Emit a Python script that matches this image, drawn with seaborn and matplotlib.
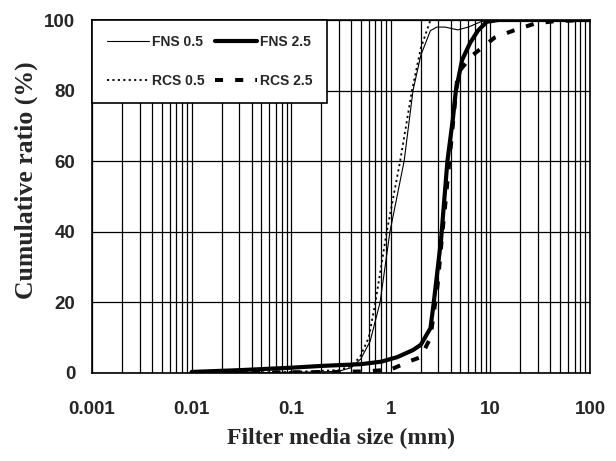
import matplotlib
matplotlib.use("Agg")
import matplotlib.pyplot as plt
from matplotlib.ticker import LogLocator, FixedLocator, NullFormatter
import numpy as np
import pandas as pd
import seaborn as sns

# Particle size distributions of filter media (size in mm, cumulative %)
fns05_size = [0.01, 0.05, 0.1, 0.2, 0.3, 0.4, 0.5, 0.62, 0.78, 0.98, 1.36, 1.67,
              2.0, 2.5, 2.9, 3.5, 4.7, 6.0, 8.0, 10.0, 100.0]
fns05_ratio = [0.0, 0.1, 0.2, 0.3, 0.5, 1.5, 4.0, 9.0, 20.0, 40.0, 60.0, 80.0,
               90.0, 97.0, 98.0, 98.0, 97.2, 98.0, 99.5, 100.0, 100.0]

fns25_size = [0.01, 0.03, 0.1, 0.2, 0.5, 0.8, 1.16, 1.67, 2.0, 2.5, 2.7, 3.2,
              3.7, 4.2, 4.5, 5.2, 6.25, 7.5, 9.2, 12.0, 100.0]
fns25_ratio = [0.3, 0.8, 1.5, 2.0, 2.5, 3.2, 4.5, 6.5, 8.0, 12.7, 20.0, 38.0,
               60.0, 72.0, 80.0, 88.7, 93.5, 97.0, 99.5, 100.0, 100.0]

rcs05_size = [0.01, 0.1, 0.3, 0.4, 0.49, 0.6, 0.7, 0.91, 1.24, 1.63, 2.0, 2.5, 100.0]
rcs05_ratio = [0.0, 0.3, 0.8, 2.0, 4.5, 10.0, 20.0, 40.0, 60.0, 80.0, 92.0, 100.0, 100.0]

rcs25_size = [0.01, 0.3, 0.6, 1.0, 1.6, 2.0, 2.5, 2.95, 3.3, 3.5, 4.7, 6.6,
              11.0, 17.0, 28.0, 45.0, 100.0]
rcs25_ratio = [0.0, 0.3, 0.5, 1.0, 3.5, 4.5, 10.0, 25.0, 40.0, 47.0, 85.0, 90.0,
               95.0, 97.0, 99.0, 99.7, 100.0]

series_names = ["FNS 0.5", "FNS 2.5", "RCS 0.5", "RCS 2.5"]
x_ticks = [0.001, 0.01, 0.1, 1, 10, 100]
x_tick_labels = ["0.001", "0.01", "0.1", "1", "10", "100"]
y_ticks = [0, 20, 40, 60, 80, 100]

sns.set_style("white")
plt.rcParams["font.family"] = ["Liberation Sans", "DejaVu Sans"]

fig = plt.figure(figsize=(6.16, 4.61), dpi=100)
ax = fig.add_axes([0.1494, 0.1909, 0.8084, 0.7657])

styles = {
    "FNS 0.5": dict(color="black", linewidth=0.8, linestyle="-"),
    "FNS 2.5": dict(color="black", linewidth=3.0, linestyle="-"),
    "RCS 0.5": dict(color="black", linewidth=1.3, linestyle=(0, (1.2, 1.8))),
    "RCS 2.5": dict(color="black", linewidth=2.9, linestyle=(0, (2.0, 3.0))),
}
data = {
    "FNS 0.5": (fns05_size, fns05_ratio),
    "FNS 2.5": (fns25_size, fns25_ratio),
    "RCS 0.5": (rcs05_size, rcs05_ratio),
    "RCS 2.5": (rcs25_size, rcs25_ratio),
}

for name in series_names:
    xs, ys = data[name]
    df = pd.DataFrame({"size": xs, "ratio": ys})
    sns.lineplot(data=df, x="size", y="ratio", ax=ax, sort=False, estimator=None,
                 label=name, zorder=3, **styles[name])

ax.set_xscale("log")
ax.set_xlim(0.001, 100)
ax.set_ylim(0, 100)

ax.xaxis.set_major_locator(FixedLocator(x_ticks))
ax.set_xticklabels(x_tick_labels)
ax.xaxis.set_minor_locator(LogLocator(base=10, subs=np.arange(2, 10), numticks=20))
ax.xaxis.set_minor_formatter(NullFormatter())
ax.set_yticks(y_ticks)
ax.set_yticklabels([str(v) for v in y_ticks])

ax.grid(True, which="major", axis="both", color="black", linewidth=0.9)
ax.grid(True, which="minor", axis="x", color="black", linewidth=0.9)
ax.set_axisbelow(True)

ax.tick_params(axis="both", which="both", length=0)
ax.tick_params(axis="x", pad=20)
ax.tick_params(axis="y", pad=12)
for lbl in ax.get_xticklabels() + ax.get_yticklabels():
    lbl.set_fontweight("bold")
    lbl.set_fontsize(13.5)

for sp in ax.spines.values():
    sp.set_visible(True)
    sp.set_color("black")
    sp.set_linewidth(1.2)

serif = ["Liberation Serif", "DejaVu Serif"]
ax.set_xlabel("Filter media size (mm)", fontsize=17, fontweight="bold",
              family=serif, labelpad=7)
ax.set_ylabel("Cumulative ratio (%)", fontsize=18.5, fontweight="bold",
              family=serif)
ax.yaxis.set_label_coords(-0.108, 0.547)

# two-column legend, filled row by row: FNS on top, RCS below
handles, labels = ax.get_legend_handles_labels()
order = [labels.index(n) for n in ["FNS 0.5", "RCS 0.5", "FNS 2.5", "RCS 2.5"]]
leg = ax.legend([handles[i] for i in order], [labels[i] for i in order],
                loc="upper left", bbox_to_anchor=(0, 1), borderaxespad=0,
                ncol=2, frameon=True, fancybox=False, framealpha=1,
                edgecolor="black", handlelength=3.05, handletextpad=0.2,
                columnspacing=0.75, labelspacing=1.85, borderpad=1.05,
                prop={"weight": "bold", "size": 10})
leg.get_frame().set_linewidth(1.2)
leg.set_zorder(5)

fig.savefig("out.png", dpi=100, facecolor="white")
